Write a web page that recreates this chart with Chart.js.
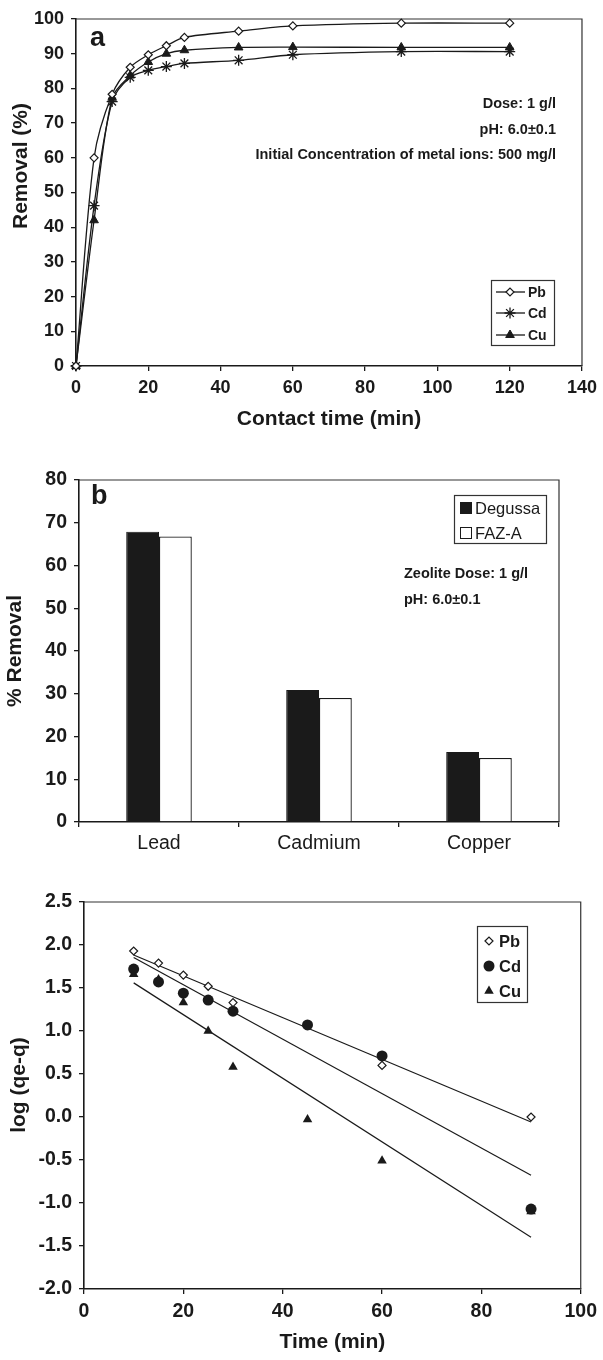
<!DOCTYPE html>
<html>
<head>
<meta charset="utf-8">
<script src="https://cdn.jsdelivr.net/npm/chart.js@4.4.1/dist/chart.umd.min.js"></script>
<style>
  html, body { margin: 0; padding: 0; background: #fff; }
  body { width: 603px; height: 1360px; position: relative; overflow: hidden; }
  canvas { position: absolute; left: 0; }
</style>
</head>
<body>
<canvas id="chartA" width="603" height="440" style="top:0"></canvas>
<canvas id="chartB" width="603" height="440" style="top:430px"></canvas>
<canvas id="chartC" width="603" height="490" style="top:870px"></canvas>
<script>
// (a) removal (%) vs contact time (min)
const timeA = [0, 5, 10, 15, 20, 25, 30, 45, 60, 90, 120];
const pbA = [0, 60, 78.3, 86.1, 89.7, 92.3, 94.7, 96.5, 98, 98.8, 98.8];
const cdA = [0, 46.2, 76.2, 83.2, 85.2, 86.3, 87.2, 88.1, 89.7, 90.6, 90.6];
const cuA = [0, 42, 77.3, 83.7, 87.6, 90, 91, 91.8, 91.9, 91.8, 91.8];

// (b) % removal by zeolite
const metalsB = ['Lead', 'Cadmium', 'Copper'];
const degussaB = [67.9, 30.9, 16.4];
const fazB = [66.8, 29.0, 15.0];

// (c) log(qe-q) vs time
const pbTimeC = [10, 15, 20, 25, 30, 60, 90];
const pbC = [1.93, 1.79, 1.65, 1.52, 1.33, 0.60, 0.00];
const cdTimeC = [10, 15, 20, 25, 30, 45, 60, 90];
const cdC = [1.72, 1.57, 1.44, 1.36, 1.23, 1.07, 0.71, -1.07];
const cuTimeC = [10, 15, 20, 25, 30, 45, 60, 90];
const cuC = [1.66, 1.60, 1.33, 1.00, 0.58, -0.03, -0.51, -1.10];

const INK = '#1a1a1a';
const FAM = "'Liberation Sans', Arial, sans-serif";
Chart.defaults.font.family = FAM;
Chart.defaults.color = INK;
Chart.defaults.animation = false;

const pts = (xs, ys) => xs.map((x, i) => ({ x, y: ys[i] }));

// least squares line over the points, drawn from first to last x
function fitLine(xs, ys) {
  const n = xs.length;
  const mx = xs.reduce((s, v) => s + v, 0) / n;
  const my = ys.reduce((s, v) => s + v, 0) / n;
  let sxy = 0, sxx = 0;
  xs.forEach((x, i) => { sxy += (x - mx) * (ys[i] - my); sxx += (x - mx) ** 2; });
  const k = sxy / sxx, b = my - k * mx;
  const x0 = Math.min(...xs), x1 = Math.max(...xs);
  return [{ x: x0, y: b + k * x0 }, { x: x1, y: b + k * x1 }];
}

// top + right edges of the plot box
const frame = {
  id: 'frame',
  beforeDatasetsDraw(chart) {
    const { ctx, chartArea: a } = chart;
    ctx.save();
    ctx.strokeStyle = '#333';
    ctx.lineWidth = 1.2;
    ctx.beginPath();
    ctx.moveTo(a.left, a.top);
    ctx.lineTo(a.right, a.top);
    ctx.lineTo(a.right, a.bottom);
    ctx.stroke();
    ctx.restore();
  }
};

// free text placed in canvas pixels (rot: -90 for vertical titles)
const notes = {
  id: 'notes',
  afterDraw(chart, args, opts) {
    const ctx = chart.ctx;
    (opts.items || []).forEach(t => {
      ctx.save();
      ctx.fillStyle = INK;
      ctx.textBaseline = 'middle';
      ctx.font = t.font;
      ctx.textAlign = t.align || 'left';
      ctx.translate(t.x, t.y);
      if (t.rot) ctx.rotate(t.rot * Math.PI / 180);
      ctx.fillText(t.text, 0, 0);
      ctx.restore();
    });
  }
};

// boxed legend in the plot
const boxLegend = {
  id: 'boxLegend',
  afterDraw(chart, args, o) {
    if (!o.box) return;
    const ctx = chart.ctx;
    ctx.save();
    ctx.fillStyle = '#fff';
    ctx.fillRect(o.box[0], o.box[1], o.box[2], o.box[3]);
    ctx.strokeStyle = '#333';
    ctx.lineWidth = 1.2;
    ctx.strokeRect(o.box[0] + 0.5, o.box[1] + 0.5, o.box[2], o.box[3]);
    ctx.font = o.font;
    ctx.textBaseline = 'middle';
    ctx.textAlign = 'left';
    o.show.forEach((di, i) => {
      const ds = chart.data.datasets[di];
      const y = o.rowY[i];
      if (o.kind === 'line') {
        ctx.strokeStyle = ds.borderColor;
        ctx.lineWidth = 1.3;
        ctx.beginPath();
        ctx.moveTo(o.lineX[0], y);
        ctx.lineTo(o.lineX[1], y);
        ctx.stroke();
      }
      if (o.kind === 'swatch') {
        ctx.fillStyle = ds.backgroundColor;
        ctx.fillRect(o.markX - 6, y - 6, 12, 12);
        ctx.strokeStyle = INK;
        ctx.lineWidth = 1;
        ctx.strokeRect(o.markX - 5.5, y - 5.5, 11, 11);
      } else {
        ctx.fillStyle = ds.pointBackgroundColor || ds.backgroundColor;
        ctx.strokeStyle = ds.pointBorderColor || ds.borderColor;
        ctx.lineWidth = ds.pointBorderWidth;
        Chart.helpers.drawPoint(ctx, {
          pointStyle: ds.pointStyle, radius: ds.pointRadius,
          borderWidth: ds.pointBorderWidth, rotation: 0
        }, o.markX, y);
      }
      ctx.fillStyle = INK;
      ctx.fillText(ds.label, o.textX, y + 1);
    });
    ctx.restore();
  }
};

const tickGrid = { drawOnChartArea: false, drawTicks: true, tickLength: 5, color: INK, lineWidth: 1.3 };
const border = { display: true, color: INK, width: 1.6 };
const bold = size => ({ size, weight: 'bold', family: FAM });

// ---------- (a) ----------
new Chart(document.getElementById('chartA'), {
  type: 'line',
  data: {
    datasets: [
      { label: 'Pb', data: pts(timeA, pbA), borderColor: INK, borderWidth: 1.3, tension: 0.3,
        pointStyle: 'rectRot', pointRadius: 4, pointBackgroundColor: '#fff', pointBorderColor: INK, pointBorderWidth: 1.2, clip: false },
      { label: 'Cd', data: pts(timeA, cdA), borderColor: INK, borderWidth: 1.3, tension: 0.3,
        pointStyle: 'star', pointRadius: 5.5, pointBackgroundColor: INK, pointBorderColor: INK, pointBorderWidth: 1.3, clip: false },
      { label: 'Cu', data: pts(timeA, cuA), borderColor: INK, borderWidth: 1.3, tension: 0.3,
        pointStyle: 'triangle', pointRadius: 5, pointBackgroundColor: INK, pointBorderColor: INK, pointBorderWidth: 1, clip: false }
    ]
  },
  options: {
    responsive: false,
    devicePixelRatio: 1,
    layout: { padding: { top: 19, right: 20, left: 0, bottom: 0 } },
    scales: {
      x: {
        type: 'linear', min: 0, max: 140,
        border, grid: tickGrid,
        ticks: { stepSize: 20, padding: 6, font: bold(18) },
        title: { display: true, text: 'Contact time (min)', font: bold(21), padding: { bottom: 8 } },
        afterFit: s => { s.height = 74; }
      },
      y: {
        min: 0, max: 100,
        border, grid: tickGrid,
        ticks: { stepSize: 10, padding: 7, font: bold(18) },
        afterFit: s => { s.width = 76; }
      }
    },
    plugins: {
      legend: { display: false },
      tooltip: { enabled: false },
      boxLegend: { kind: 'line', box: [491, 280, 63, 65], show: [0, 1, 2], rowY: [292, 313, 335],
        lineX: [496, 525], markX: 510, textX: 528, font: 'bold 14px ' + FAM },
      notes: { items: [
        { text: 'Removal (%)', x: 21, y: 166, rot: -90, align: 'center', font: 'bold 21px ' + FAM },
        { text: 'a', x: 90, y: 39, font: 'bold 27px ' + FAM },
        { text: 'Dose: 1 g/l', x: 556, y: 104, align: 'right', font: 'bold 14.5px ' + FAM },
        { text: 'pH: 6.0±0.1', x: 556, y: 130, align: 'right', font: 'bold 14.5px ' + FAM },
        { text: 'Initial Concentration of metal ions: 500 mg/l', x: 556, y: 155, align: 'right', font: 'bold 14.5px ' + FAM }
      ] }
    }
  },
  plugins: [frame, notes, boxLegend]
});

// ---------- (b) ----------
new Chart(document.getElementById('chartB'), {
  type: 'bar',
  data: {
    labels: metalsB,
    datasets: [
      { label: 'Degussa', data: degussaB, backgroundColor: INK, borderColor: INK, borderWidth: 1 },
      { label: 'FAZ-A', data: fazB, backgroundColor: '#fff', borderColor: INK, borderWidth: 1.3 }
    ]
  },
  options: {
    responsive: false,
    devicePixelRatio: 1,
    categoryPercentage: 0.41,
    barPercentage: 1,
    layout: { padding: { top: 50, right: 44, left: 0, bottom: 0 } },
    scales: {
      x: {
        border, grid: tickGrid,
        ticks: { padding: 5, font: { size: 19.5, family: FAM } },
        afterFit: s => { s.height = 48; }
      },
      y: {
        min: 0, max: 80,
        border, grid: tickGrid,
        ticks: { stepSize: 10, padding: 7, font: bold(19.5) },
        title: { display: true, text: '% Removal', font: bold(21), padding: { top: 3 } },
        afterFit: s => { s.width = 79; }
      }
    },
    plugins: {
      legend: { display: false },
      tooltip: { enabled: false },
      boxLegend: { kind: 'swatch', box: [454, 65, 92, 48], show: [0, 1], rowY: [78, 103],
        markX: 466, textX: 475, font: '16.5px ' + FAM },
      notes: { items: [
        { text: 'b', x: 91, y: 67, font: 'bold 27px ' + FAM },
        { text: 'Zeolite Dose: 1 g/l', x: 404, y: 144, font: 'bold 14.5px ' + FAM },
        { text: 'pH: 6.0±0.1', x: 404, y: 170, font: 'bold 14.5px ' + FAM }
      ] }
    }
  },
  plugins: [frame, notes, boxLegend]
});

// ---------- (c) ----------
const markC = [
  { label: 'Pb', xs: pbTimeC, ys: pbC, style: 'rectRot', r: 4, fill: '#fff', bw: 1.2 },
  { label: 'Cd', xs: cdTimeC, ys: cdC, style: 'circle', r: 5.5, fill: INK, bw: 0 },
  { label: 'Cu', xs: cuTimeC, ys: cuC, style: 'triangle', r: 5.5, fill: INK, bw: 0 }
];
const dsC = markC.map(m => ({
  label: m.label, data: pts(m.xs, m.ys), showLine: false,
  pointStyle: m.style, pointRadius: m.r, pointBackgroundColor: m.fill,
  pointBorderColor: INK, pointBorderWidth: m.bw, backgroundColor: m.fill, borderColor: INK, clip: false
}));
markC.forEach(m => dsC.push({
  label: m.label + ' fit', data: fitLine(m.xs, m.ys), showLine: true,
  borderColor: INK, borderWidth: 1.2, pointRadius: 0, order: 5
}));

new Chart(document.getElementById('chartC'), {
  type: 'scatter',
  data: { datasets: dsC },
  options: {
    responsive: false,
    devicePixelRatio: 1,
    layout: { padding: { top: 32, right: 20, left: 0, bottom: 0 } },
    scales: {
      x: {
        type: 'linear', min: 0, max: 100,
        border, grid: tickGrid,
        ticks: { stepSize: 20, padding: 6, font: bold(19.5) },
        title: { display: true, text: 'Time (min)', font: bold(21), padding: { bottom: 5 } },
        afterFit: s => { s.height = 71; }
      },
      y: {
        min: -2, max: 2.5,
        border, grid: tickGrid,
        ticks: { stepSize: 0.5, padding: 7, font: bold(19.5), callback: v => v.toFixed(1) },
        afterFit: s => { s.width = 84; }
      }
    },
    plugins: {
      legend: { display: false },
      tooltip: { enabled: false },
      boxLegend: { kind: 'mark', box: [477, 56, 50, 76], show: [0, 1, 2], rowY: [71, 96, 121],
        markX: 489, textX: 499, font: 'bold 16.5px ' + FAM },
      notes: { items: [
        { text: 'log (qe-q)', x: 19, y: 215, rot: -90, align: 'center', font: 'bold 21px ' + FAM }
      ] }
    }
  },
  plugins: [frame, notes, boxLegend]
});
</script>
</body>
</html>
